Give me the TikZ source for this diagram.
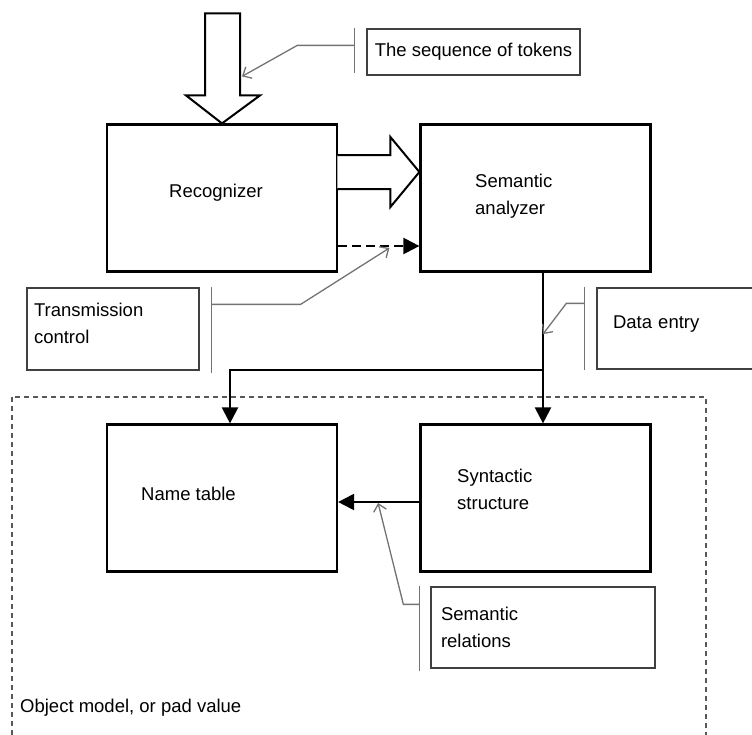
\documentclass[tikz,border=0pt]{standalone}
\usepackage{fontspec}
\setmainfont{Liberation Sans}
\usetikzlibrary{arrows,arrows.meta,positioning,calc}

\begin{document}
\begin{tikzpicture}[x=1pt,y=1pt,>={Triangle[length=16pt,width=16pt]},node distance=313.5pt,
  block/.style={draw,line width=2.2pt,minimum width=230pt,minimum height=147pt,inner sep=0pt},
  txt/.style={anchor=base west,inner sep=0pt,align=left,font=\fontsize{18.5}{27}\selectfont},
  callout/.style={draw=black!75,line width=1.3pt,inner xsep=7pt,inner ysep=0pt,align=left,
    font=\fontsize{18.5}{27}\selectfont},
  bar/.style={draw=black!55,line width=1.3pt},
  leader/.style={draw=black!55,line width=1.3pt,-{Straight Barb[length=7pt,width=13pt]}},
  conn/.style={line width=2.2pt},
  hollow/.style={draw,fill=white,line width=2pt,line join=miter}]

 \path[use as bounding box,clip] (0,0) rectangle (752,-734);

 % the four main blocks
 \node[block] (rec) at (222,-198) {};
 \node[block] (sa) [right of=rec] {};
 \node[block] (nt) [below of=rec,node distance=300pt] {};
 \node[block] (syn) [right of=nt] {};

 \node[txt] (rectxt) at ([xshift=-53pt,yshift=1pt]rec.center) {Recognizer};
 \node[txt] (satxt) at ([xshift=-60.5pt,yshift=-16pt]sa.center) {Semantic\\analyzer};
 \node[txt] (nttxt) at ([xshift=-81pt,yshift=-2pt]nt.center) {Name table};
 \node[txt] (syntxt) at ([xshift=-78.5pt,yshift=-11pt]syn.center) {Syntactic\\structure};

 % dashed frame
 \draw[black!65,line width=1.6pt,dash pattern=on 5pt off 4pt] (12,-397) rectangle (706,-760);
 \node[txt] (frametxt) at (20,-712) {Object model, or pad value};

 % hollow arrows
 \draw[hollow,shift={(rec.north)}] (-17,110) -- (-17,28) -- (-36,28) -- (0,0) -- (38,28)
    -- (18,28) -- (18,110) -- cycle;
 \draw[hollow,shift={([yshift=26pt]sa.west)}] (-82,17) -- (-29,17) -- (-29,35) -- (0,0)
    -- (-29,-35) -- (-29,-17) -- (-82,-17);

 % connectors
 \draw[conn,->,dash pattern=on 9pt off 5pt] ([yshift=-48pt]rec.east) -- ([yshift=-48pt]sa.west);
 \draw[conn,->] ([xshift=7.5pt]sa.south) -- ([xshift=7.5pt]syn.north);
 \coordinate (split) at ([xshift=7.5pt,yshift=-97.5pt]sa.south);
 \draw[conn,->] (split) -| ([xshift=8pt]nt.north);
 \draw[conn,->] ([yshift=-4pt]syn.west) -- ([yshift=-4pt]nt.east);

 % callouts
 \node[callout,minimum width=213pt,minimum height=46pt] (tok) at (473.5,-52) {The sequence of tokens};
 \node[callout,text width=158pt,minimum height=82pt] (tc) at (113,-329) {Transmission\\control\\[-15pt]\mbox{}};
 \node[callout,text width=140pt,inner xsep=16pt,minimum height=81pt] (de) at (683,-328.5) {Data entry\\[-15pt]\mbox{}};
 \node[callout,text width=204pt,minimum height=81pt,inner xsep=10pt] (sr) at (543,-627.5) {Semantic\\relations};

 \draw[bar] ([xshift=-12pt]tok.north west) -- ([xshift=-12pt,yshift=3pt]tok.south west);
 \draw[bar] ([xshift=12pt]tc.north east) -- ([xshift=12pt,yshift=-2pt]tc.south east);
 \draw[bar] ([xshift=-12pt]de.north west) -- ([xshift=-12pt]de.south west);
 \draw[bar] ([xshift=-11pt]sr.north west) -- ([xshift=-11pt,yshift=-2pt]sr.south west);

 \coordinate (tokend) at ([xshift=20pt,yshift=52pt]rec.north);
 \coordinate (tcend) at ([xshift=-30pt,yshift=-50pt]sa.west);
 \coordinate (deend) at ([yshift=-61.5pt]sa.south -| split);
 \coordinate (srend) at ([xshift=40pt]syn.west -| nt.east);

 \draw[leader] ([xshift=-12pt,yshift=-17pt]tok.north west) -- +(-57,0) -- ([yshift=-5pt]tokend);
 \draw[leader] ([xshift=12pt,yshift=-17pt]tc.north east) -- +(89,0) -- (tcend);
 \draw[leader] ([xshift=-12pt,yshift=-16pt]de.north west) -- +(-18,0) -- (deend);
 \draw[leader] ([xshift=-11pt,yshift=-18pt]sr.north west) -- +(-16,0) -- ([yshift=-5pt]srend);

\end{tikzpicture}
\end{document}
